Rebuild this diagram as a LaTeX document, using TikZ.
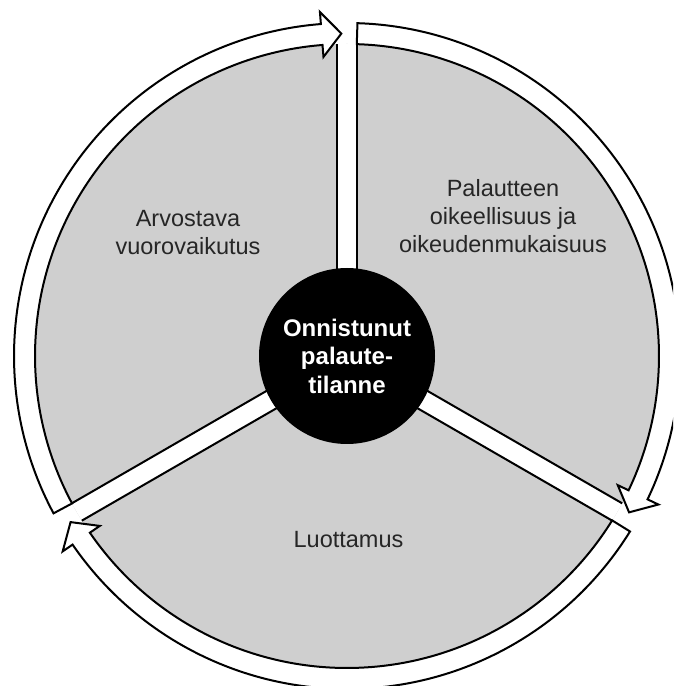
\documentclass[tikz,border=0pt]{standalone}
\usepackage{fontspec}
\setmainfont{Liberation Sans}
\usetikzlibrary{positioning}
\definecolor{cDisk}{HTML}{CFCFCF}
\definecolor{cInk}{HTML}{262626}
\tikzset{
  ringarrow/.style={draw=black, fill=white, line width=2pt, line join=miter},
  spokeline/.style={draw=black, line width=2pt},
  hub/.style={circle, fill=black, minimum size=176pt, inner sep=0pt, align=center,
    text=white, font={\bfseries\fontsize{24}{28.5}\selectfont}},
  lbl/.style={align=center, inner sep=0pt, text=cInk, font={\fontsize{23.5}{28}\selectfont}},
}

\begin{document}
\begin{tikzpicture}[x=1pt, y=1pt]

  % ---------- frame ----------
  \useasboundingbox (0,0) rectangle (673,686);
  \clip (0,0) rectangle (673,686);

  % ---------- disk ----------
  \fill[cDisk] (347,330) circle[radius=312];

  % ---------- spokes ----------
  \foreach \a in {90,210,330} {
    \begin{scope}[shift={(347,330)}, rotate=\a]
      \fill[white] (0,-10) rectangle (312,10);
      \draw[spokeline] (80,10) -- (312,10);
      \draw[spokeline] (80,-10) -- (312,-10);
    \end{scope}
  }

  % ---------- ring arrows ----------
  \foreach \s/\t in {208.2/91, 88.2/-29, -31.8/-149} {
    \pgfmathsetmacro{\b}{\t+3.5}
    \begin{scope}[shift={(347,330)}]
      \draw[ringarrow] (\s:333) arc[start angle=\s, end angle=\b, radius=333]
        -- (\b:345) -- (\t:322.5) -- (\b:300) -- (\b:312)
        arc[start angle=\b, end angle=\s, radius=312] -- cycle;
    \end{scope}
  }

  % ---------- hub ----------
  \node[hub] (hub) at (347,330) {Onnistunut\\palaute-\\tilanne};

  % ---------- labels ----------
  \node[lbl] (arvo) at (188,453.5) {Arvostava\\vuorovaikutus};
  \node[lbl] (pal) at (503,469.5) {Palautteen\\oikeellisuus ja\\oikeudenmukaisuus};
  \node[lbl] (luo) at (348.5,146.5) {Luottamus};

\end{tikzpicture}
\end{document}
